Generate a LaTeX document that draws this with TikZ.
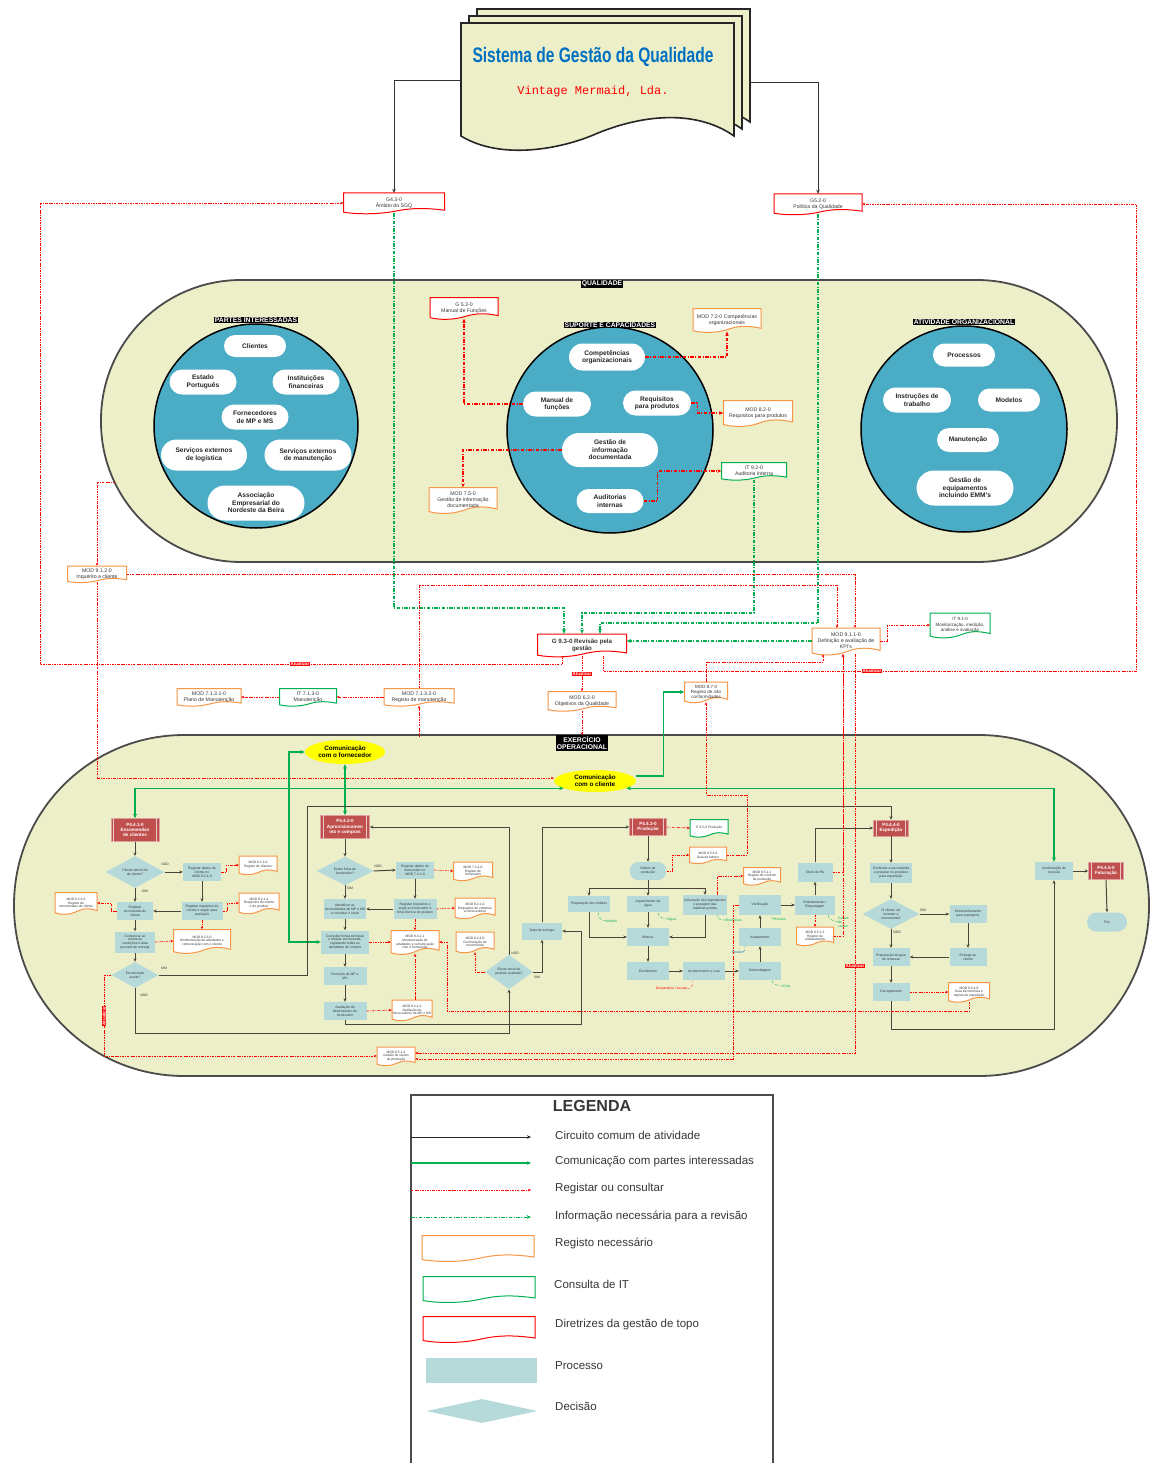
\documentclass[tikz,border=0pt]{standalone}
\usepackage{fontspec}
\setmainfont{Liberation Sans}
\newfontfamily\titlefont{Liberation Sans}[FakeStretch=0.74]
\newfontfamily\subtfont{Liberation Mono}
\usetikzlibrary{shapes.geometric,shapes.misc,arrows.meta}

\definecolor{qbg}{RGB}{237,239,201}
\definecolor{cblue}{RGB}{75,172,198}
\definecolor{procc}{RGB}{182,218,218}
\definecolor{pred}{RGB}{192,80,77}
\definecolor{gline}{RGB}{0,176,80}
\definecolor{oline}{RGB}{247,150,70}
\definecolor{rline}{RGB}{255,0,0}
\definecolor{tblue}{RGB}{0,112,192}
\definecolor{dgray}{RGB}{55,55,55}
\definecolor{lgray}{RGB}{75,75,75}
\definecolor{yell}{RGB}{255,255,0}
\definecolor{flowc}{RGB}{70,70,60}

\tikzset{
  docfont/.style={font=\fontsize{5.2}{5.9}\selectfont},
  docsm/.style={font=\fontsize{4.5}{5.1}\selectfont},
  tinydoc/.style={font=\fontsize{3.3}{3.8}\selectfont},
  g93font/.style={font=\fontsize{6.2}{7}\selectfont\bfseries},
  tinyfont/.style={font=\fontsize{3.4}{3.9}\selectfont},
  doctext/.style={align=center, inner sep=0pt, text=dgray},
  pill/.style={rounded rectangle, fill=white, align=center, inner sep=0pt,
    font=\fontsize{6.6}{7.4}\selectfont\bfseries, text=black!85},
  ctag/.style={fill=black, text=white, inner sep=1pt, align=center,
    font=\fontsize{6.8}{7.4}\selectfont\bfseries},
  procn/.style={rectangle, fill=procc, align=center, inner sep=0.5pt, tinyfont, text=dgray},
  decn/.style={diamond, fill=procc, align=center, inner sep=0pt, tinyfont, text=dgray},
  termn/.style={rounded rectangle, fill=procc, align=center, inner sep=0pt, tinyfont, text=dgray},
  pbx/.style={rectangle, fill=pred, draw=pred!55!white, line width=0.5pt, align=center,
    inner sep=0pt, text=white, font=\fontsize{4.6}{5.2}\selectfont\bfseries},
  yellown/.style={ellipse, fill=yell, align=center, inner sep=0pt,
    font=\fontsize{6.3}{7}\selectfont\bfseries},
  flow/.style={draw=flowc, line width=1pt, -{Stealth[length=3.5pt,width=3pt]}},
  flowline/.style={draw=flowc, line width=1pt},
  flowt/.style={draw=black!80, line width=0.9pt, -{Stealth[length=4pt,width=3.5pt]}},
  comm/.style={draw=gline, line width=1.4pt, -{Stealth[length=4.5pt,width=4pt]}},
  comm2/.style={draw=gline, line width=1.4pt,
    {Stealth[length=4.5pt,width=4pt]}-{Stealth[length=4.5pt,width=4pt]}},
  reg/.style={draw=rline, line width=0.6pt,
    dash pattern=on 2.4pt off 1.1pt on 0.7pt off 1.1pt, -{Stealth[length=3pt,width=2.6pt]}},
  regb/.style={draw=rline, line width=1.1pt,
    dash pattern=on 3.5pt off 1.5pt on 1pt off 1.5pt, -{Stealth[length=4pt,width=3.5pt]}},
  rev/.style={draw=gline, line width=1.3pt,
    dash pattern=on 3.5pt off 1.5pt on 1pt off 1.5pt, -{Stealth[length=4.5pt,width=4pt]}},
  upd/.style={fill=rline, text=white, inner sep=0.7pt, font=\fontsize{4.4}{5}\selectfont\bfseries},
  tagn/.style={tinyfont, text=dgray, inner sep=0pt},
  annG/.style={tinyfont, text=gline, inner sep=0pt, align=left},
  annR/.style={tinyfont, text=rline, inner sep=0pt},
  annB/.style={tinyfont, text=tblue, inner sep=0pt},
  leadG/.style={draw=gline, line width=0.35pt, densely dashed},
  leadR/.style={draw=rline!70, line width=0.35pt, densely dashed},
  leadB/.style={draw=tblue, line width=0.35pt, densely dashed},
  sheetst/.style={fill=qbg, draw=black!85, line width=1.6pt},
  legt/.style={anchor=west, inner sep=0pt, text=dgray, font=\fontsize{11.5}{13}\selectfont},
}

% document symbol: rectangle with a wavy lower edge
\newcommand{\docnode}[7][docfont]{%
  \begin{scope}[shift={(#3)}]
    \filldraw[fill=white, draw=#6, line width=1pt]
      (-#4/2,-#5/2) -- (#4/2,-#5/2) -- (#4/2,0.36*#5)
      .. controls (0.25*#4,0.2*#5) and (0.12*#4,0.3*#5) .. (0,0.42*#5)
      .. controls (-0.15*#4,0.56*#5) and (-0.35*#4,0.58*#5) .. (-#4/2,0.46*#5) -- cycle;
  \end{scope}
  \node[doctext,#1,minimum width=#4,minimum height=#5] (#2) at (#3) {#7};
}
% predefined-process box with inner side bars
\newcommand{\predproc}[5]{%
  \node[pbx, minimum width=#3, minimum height=#4] (#1) at (#2) {#5};
  \draw[pred!30!white, line width=0.6pt]
    ([xshift=3pt]#1.north west) -- ([xshift=3pt]#1.south west)
    ([xshift=-3pt]#1.north east) -- ([xshift=-3pt]#1.south east);
}
% one sheet of the title stack
\newcommand{\drawsheet}[2]{%
  \filldraw[sheetst, shift={(#1,#2)}] (461,23) -- (734,23) -- (734,136)
    .. controls (700,112) and (650,112) .. (598,133)
    .. controls (560,150) and (500,160) .. (461,136) -- cycle;
}

\begin{document}
\begin{tikzpicture}[x=1pt,y=-1pt]
\path[use as bounding box, fill=white] (0,0) rectangle (1150,1463);

% ---------- the two big bands ----------
\draw[fill=qbg, draw=lgray, line width=1.8pt, rounded corners=140pt] (101,280) rectangle (1117,562);
\draw[fill=qbg, draw=lgray, line width=1.8pt, rounded corners=170pt] (14,735) rectangle (1149,1076);

% ---------- circles of the quality band ----------
\draw[fill=cblue, draw=black, line width=1.5pt] (256,426) circle[radius=102pt];
\draw[fill=cblue, draw=black, line width=1.5pt] (610,430) circle[radius=103pt];
\draw[fill=cblue, draw=black, line width=1.5pt] (964,429) circle[radius=103pt];

\node[ctag] (tq) at (602,284) {QUALIDADE};
\node[ctag] (tpi) at (256,320) {PARTES INTERESSADAS};
\node[ctag] (tsc) at (610,325) {SUPORTE E CAPACIDADES};
\node[ctag] (tao) at (964,322) {ATIVIDADE ORGANIZACIONAL};

\node[pill, minimum width=62, minimum height=22] (pcl) at (255,346) {Clientes};
\node[pill, minimum width=67, minimum height=25] (pes) at (203,382) {Estado\\Português};
\node[pill, minimum width=67, minimum height=25] (pin) at (306,382) {Instituições\\financeiras};
\node[pill, minimum width=67, minimum height=25] (pfo) at (255,417) {Fornecedores\\de MP e MS};
\node[pill, minimum width=86, minimum height=31] (psl) at (204,455) {Serviços externos\\de logística};
\node[pill, minimum width=87, minimum height=31] (psm) at (308,455) {Serviços externos\\de  manutenção};
\node[pill, minimum width=97, minimum height=35] (pae) at (256,503) {Associação\\Empresarial do\\Nordeste da Beira};

\node[pill, minimum width=76, minimum height=27] (pco) at (607,357) {Competências\\organizacionais};
\node[pill, minimum width=68, minimum height=25] (pmf) at (557,404) {Manual de\\funções};
\node[pill, minimum width=68, minimum height=25] (preq) at (657,403) {Requisitos\\para produtos};
\node[pill, minimum width=96, minimum height=34] (pgi) at (610,450) {Gestão de\\informação\\documentada};
\node[pill, minimum width=67, minimum height=24] (pau) at (610,501) {Auditorias\\internas};

\node[pill, minimum width=62, minimum height=23] (ppr) at (964,355) {Processos};
\node[pill, minimum width=68, minimum height=25] (pit) at (917,400) {Instruções de\\trabalho};
\node[pill, minimum width=62, minimum height=23] (pmo) at (1009,400) {Modelos};
\node[pill, minimum width=62, minimum height=24] (pma) at (968,440) {Manutenção};
\node[pill, minimum width=97, minimum height=35] (pge) at (965,488) {Gestão de\\equipamentos\\incluindo EMM's};

% ---------- title stack ----------
\drawsheet{16}{-14}
\drawsheet{8}{-7}
\drawsheet{0}{0}
\node[minimum width=273, minimum height=113, inner sep=0pt] (sgq) at (597.5,80) {};
\coordinate (sgqR) at (750,82);
\node[text=tblue, font=\titlefont\fontsize{21}{24}\selectfont\bfseries] (ttl) at (593,57) {Sistema de Gestão da Qualidade};
\node[text=rline, font=\subtfont\fontsize{12}{14}\selectfont] (sub) at (593,91) {Vintage Mermaid, Lda.};

% ---------- records and directives, upper part ----------
\docnode{g43}{394,203}{101}{20}{rline}{G4.3-0\\Âmbito do SGQ}
\docnode{g52}{818,204}{88}{20}{rline}{G5.2-0\\Política da Qualidade}
\docnode{g53}{464,308}{68}{21}{rline}{G 5.3-0\\Manual de Funções}
\docnode{m72}{727,320}{68}{23}{oline}{MOD 7.2-0 Competências\\organizacionais}
\docnode{m82}{758,413}{69}{25}{oline}{MOD 8.2-0\\Requisitos para produtos}
\docnode{m75}{463,500}{68}{25}{oline}{MOD 7.5-0\\Gestão de informação\\documentada}
\docnode{it92}{754,471}{65}{17}{gline}{IT 9.2-0\\Auditoria interna}
\docnode{m912}{97,574}{59}{16}{oline}{MOD 9.1.2-0\\Inquérito a cliente}
\docnode[g93font]{g93}{582,645}{89}{22}{rline}{G 9.3-0 Revisão pela\\gestão}
\docnode{m62}{582,701}{68}{19}{oline}{MOD 6.2-0\\Objetivos da Qualidade}
\docnode[docsm]{m87}{706,692}{43}{20}{oline}{MOD 8.7-0\\Registo de não\\conformidades}
\docnode{m911}{846,641}{68}{26}{oline}{MOD 9.1.1-0\\Definição e avaliação de\\KPI's}
\docnode[docsm]{it91}{960,625}{60}{24}{gline}{IT 9.1-0\\Monitorização, medição,\\análise e avaliação}
\docnode{m7131}{209,697}{64}{17}{oline}{MOD 7.1.3.1-0\\Plano de Manutenção}
\docnode{it713}{308,697}{57}{17}{gline}{IT 7.1.3-0\\Manutenção}
\docnode{m7132}{419,697}{70}{17}{oline}{MOD 7.1.3.2-0\\Registo de manutenção}

\node[ctag] (teo) at (582,743) {EXERCÍCIO\\OPERACIONAL};

% ---------- operational band: communication ----------
\node[yellown, minimum width=80, minimum height=24] (cforn) at (345,752) {Comunicação\\com o fornecedor};
\node[yellown, minimum width=82, minimum height=22] (ccli) at (595,781) {Comunicação\\com o cliente};

% ---------- P4.4.1-0 ----------
\predproc{p441}{135,830}{48}{23}{P4.4.1-0\\Encomendas\\de clientes}
\node[decn, minimum width=59, minimum height=30] (dc1) at (135,872) {Cliente tem ficha\\de cliente?};
\node[procn, minimum width=38, minimum height=18] (r1) at (202,872) {Registar dados do\\cliente no\\MOD 8.2.1-0};
\docnode[tinydoc]{d1}{258,865}{38}{18}{oline}{MOD 8.2.1-0\\Registo de clientes}
\node[procn, minimum width=36, minimum height=18] (e1) at (135,911) {Registar\\encomenda do\\cliente};
\node[procn, minimum width=41, minimum height=18] (r2) at (202,911) {Registar requisitos do\\cliente e seguir para\\avaliação};
\docnode[tinydoc]{d2}{259,903}{40}{20}{oline}{MOD 8.2.1-1\\Requisitos do cliente\\e do produto}
\docnode[tinydoc]{d4}{76,903}{42}{21}{oline}{MOD 8.2.2-0\\Registo de\\encomendas de cliente}
\docnode[tinydoc]{d3}{202,941}{57}{23}{oline}{MOD 8.2.3-0\\Monitorização de atividades e\\comunicação com o cliente}
\node[procn, minimum width=40, minimum height=21] (c1) at (135,942) {Comunicar ao\\cliente as\\condições e data\\prevista de entrega};
\node[decn, minimum width=47, minimum height=26] (dc2) at (135,975) {Encomenda\\aceite?};
\node[tagn] (tg1) at (165,864) {NÃO};
\node[tagn] (tg2) at (145,891) {SIM};
\node[tagn] (tg3) at (164,968) {SIM};
\node[tagn] (tg4) at (144,995) {NÃO};

% ---------- P4.4.2-0 ----------
\predproc{p442}{345,827}{49}{23}{P4.4.2-0\\Aprovisionamen\\nto e compras}
\node[decn, minimum width=57, minimum height=28] (dc4) at (345,871) {Existe ficha de\\fornecedor?};
\node[procn, minimum width=38, minimum height=17] (s1) at (415,870) {Registar dados do\\fornecedor no\\MOD 7.4.1-0};
\docnode[tinydoc]{d5}{473,871}{39}{18}{oline}{MOD 7.4.1-0\\Registo de\\fornecedor}
\node[procn, minimum width=42, minimum height=20] (s3) at (345,909) {Identificar as\\necessidades de MP e MS\\e consultar o stock};
\node[procn, minimum width=43, minimum height=20] (s2) at (415,909) {Registar requisitos e\\exigir ao fornecedor a\\ficha técnica do produto};
\docnode[tinydoc]{d6}{475,908}{40}{20}{oline}{MOD 8.4.1-0\\Requisitos de compras\\a fornecedores}
\node[procn, minimum width=48, minimum height=23] (s4) at (345,942) {Consultar fichas técnicas\\e efetuar encomenda,\\registando todas as\\atividades de compra};
\docnode[tinydoc]{d7}{415,942}{48}{23}{oline}{MOD 8.4.1-1\\Monitorização de\\atividades e comunicação\\com o fornecedor}
\docnode[tinydoc]{d9}{475,942}{38}{20}{oline}{MOD 8.2.4-0\\Confirmação de\\encomenda}
\node[procn, minimum width=43, minimum height=18] (s5) at (345,976) {Receção de MP e\\MS};
\node[procn, minimum width=43, minimum height=18] (s6) at (345,1011) {Avaliação de\\desempenho do\\fornecedor};
\docnode[tinydoc]{d8}{412,1010}{40}{20}{oline}{MOD 8.4.1-2\\Avaliação de\\fornecedores de MP e MS}
\docnode[tinydoc]{d10}{396,1056}{38}{18}{oline}{MOD 8.5.1-4\\Gestão de stocks\\de produção}
\node[decn, minimum width=48, minimum height=26] (dc3) at (509,972) {Existe stock de\\produto acabado?};
\node[procn, minimum width=40, minimum height=17] (rcp) at (542,931) {Data de entrega};
\node[tagn] (tg5) at (378,866) {NÃO};
\node[tagn] (tg6) at (350,888) {SIM};
\node[tagn] (tg7) at (515,953) {NÃO};
\node[tagn] (tg8) at (537,977) {SIM};

% ---------- P4.4.3-0 ----------
\predproc{p443}{648,827}{37}{17}{P4.4.3-0\\Produção}
\docnode[tinydoc]{it85}{709,828}{38}{17}{gline}{IT 8.5-0 Produção}
\docnode[tinydoc]{m851}{708,855}{37}{16}{oline}{MOD 8.5.1-0\\Guia de fabrico}
\node[termn, minimum width=37, minimum height=18] (op) at (648,871) {Ordem de\\produção};
\coordinate (spl) at (648,888);
\node[procn, minimum width=42, minimum height=16] (m1) at (589,904) {Preparação dos moldes};
\node[procn, minimum width=42, minimum height=16] (m2) at (648,904) {Aquecimento da\\água};
\node[procn, minimum width=44, minimum height=20] (m3) at (705,905) {Colocação dos ingredientes\\e pesagem das\\matérias-primas};
\node[procn, minimum width=42, minimum height=18] (m4) at (648,937) {Mistura};
\node[procn, minimum width=42, minimum height=18] (m5) at (648,971) {Enchimento};
\node[procn, minimum width=42, minimum height=18] (m6) at (704,971) {Arrefecimento e cura};
\node[procn, minimum width=42, minimum height=18] (m7) at (760,971) {Desmoldagem};
\node[procn, minimum width=42, minimum height=18] (m8) at (760,937) {Acabamento};
\node[procn, minimum width=42, minimum height=20] (m9) at (760,905) {Verificação};
\docnode[tinydoc]{m8511}{762,876}{37}{17}{oline}{MOD 8.5.1-1\\Registo de controlo\\de produção}
\node[procn, minimum width=40, minimum height=19] (m10) at (815,905) {Embalamento /\\Etiquetagem};
\docnode[tinydoc]{m8513}{815,936}{37}{18}{oline}{MOD 8.5.1-3\\Registo de\\embalamento}
\node[procn, minimum width=35, minimum height=19] (m11) at (815,872) {Stock de PA};

\node[annG, anchor=west] (a1) at (606,921) {Moldes};
\node[annG, anchor=west] (a2) at (668,919) {Água};
\node[annG, anchor=west] (a3) at (726,920) {Essências};
\node[annG, anchor=west] (a4) at (774,919) {Rótulos};
\node[annG, anchor=west] (a5) at (838,922) {Caixas\\de\\cartão};
\node[annB, anchor=east] (a6) at (743,952) {Pincéis};
\node[annG, anchor=west] (a7) at (783,986) {Cola};
\node[annR, anchor=east] (a8) at (687,989) {Desperdício / sucata};
\draw[leadG] (a1.west) .. controls +(-5,0) and +(0,5) .. ([xshift=9pt]m1.south);
\draw[leadG] (a2.west) .. controls +(-5,0) and +(0,5) .. ([xshift=10pt]m2.south);
\draw[leadG] (a3.west) .. controls +(-5,0) and +(0,4) .. ([xshift=12pt]m3.south);
\draw[leadG] (a4.west) .. controls +(-3,0) and +(0,3) .. ([xshift=12pt]m9.south);
\draw[leadG] (a5.west) .. controls +(-4,0) and +(0,4) .. ([xshift=13pt]m10.south);
\draw[leadB] (a6.east) .. controls +(2,0) and +(0,3) .. ([xshift=-15pt]m8.south);
\draw[leadG] (a7.west) .. controls +(-5,0) and +(0,4) .. ([xshift=12pt]m7.south);
\draw[leadR] (a8.east) .. controls +(5,0) and +(0,4) .. ([xshift=-11pt]m6.south);

% ---------- P4.4.4-0 and P4.4.5-0 ----------
\predproc{p444}{891,828}{35}{16}{P4.4.4-0\\Expedição}
\node[procn, minimum width=42, minimum height=20] (x1) at (891,873) {Confirmar a encomenda\\e preparar os produtos\\para expedição};
\node[decn, minimum width=57, minimum height=27] (dc5) at (891,914) {O cliente vai\\levantar a\\encomenda?};
\node[procn, minimum width=37, minimum height=18] (x2) at (968,914) {Encaminhamento\\para transporte};
\node[procn, minimum width=37, minimum height=18] (x3) at (968,957) {Entrega ao\\cliente};
\node[procn, minimum width=37, minimum height=18] (x4) at (891,957) {Preparação da guia\\de remessa};
\node[procn, minimum width=37, minimum height=18] (x5) at (891,992) {Carregamento};
\docnode[tinydoc]{m854}{969,992}{41}{19}{oline}{MOD 8.5.4-0\\Guia de remessa e\\registo de expedição}
\node[procn, minimum width=38, minimum height=18] (conf) at (1054,871) {Confirmação de\\receção};
\predproc{p445}{1106,871}{35}{17}{P4.4.5-0\\Faturação}
\node[termn, minimum width=40, minimum height=19] (fim) at (1107,922) {Fim};
\node[tagn] (tg9) at (923,910) {SIM};
\node[tagn] (tg10) at (897,932) {NÃO};

% ---------- title connectors ----------
\draw[flowt] (sgq.west) -| (g43.north);
\draw[flowt] (sgqR) -| (g52.north);

% ---------- quality band: register / consult ----------
\draw[regb] (pmf.west) -| (g53.south);
\draw[regb] (pco.east) -| (m72.south);
\draw[regb] (preq.east) -- ++(6,0) |- (m82.west);
\draw[regb] (pgi.west) -| (m75.north);
\draw[regb] (pau.east) -- ++(14,0) |- (it92.west);

% ---------- information for the review ----------
\draw[rev] (g43.south) |- (564,608) -- ([xshift=-18pt]g93.north);
\draw[rev] (it92.south) |- (582,613) -- (g93.north);
\draw[rev] (g52.south) |- (600,623) -- ([xshift=18pt]g93.north);
\draw[rev] (m911.west) -- (m911.west -| g93.east);

% ---------- updates from the review ----------
\draw[reg] ([xshift=-20pt]g93.south) -- ++(0,8) -| (40,203) -- (g43.west);
\draw[reg] ([xshift=21pt]g93.south) -- ++(0,15) -| (1136,204) -- (g52.east);
\draw[reg] (g93.south) -- (m62.north);
\draw[reg] (m62.south) -- (teo.north);
\node[upd] (u1) at (300,664) {Atualizar};
\node[upd] (u2) at (872,671) {Atualizar};
\node[upd] (u3) at (582,674) {Atualizar};

% ---------- records feeding the KPIs ----------
\coordinate (qlink) at (115,482);
\draw[reg] (qlink) -| (m912.north);
\draw[reg] (m912.east) -| ([xshift=9pt]m911.north);
\draw[reg] (m7132.north) |- (837,585) -- ([xshift=-9pt]m911.north);
\coordinate (opt419) at (419,737);
\draw[reg] (opt419) -- (m7132.south);
\draw[reg] (m7132.west) -- (it713.east);
\draw[reg] (it713.west) -- (m7131.east);
\draw[reg] (m911.east) -- ++(7,0) |- (it91.west);
\draw[reg] (m87.north) |- (823,662) -- ([xshift=-23pt]m911.south);
\draw[reg] (m912.south) |- ([yshift=3pt]ccli.west);

% ---------- communication lines ----------
\draw[comm2] (p441.north) |- (ccli.193);
\draw[comm2] (ccli.347) -| (conf.north);
\draw[comm2] (cforn.south) -- (p442.north);
\draw[comm2] (cforn.west) -| (289,942) -- (s4.west);
\draw[comm] ([yshift=5pt]ccli.east) -- ++(27,0) |- (m87.west);

% ---------- activity circuit ----------
\draw[flow] (p441.south) -- (dc1.north);
\draw[flow] (dc1.east) -- (r1.west);
\draw[flow] (r1.south) -- (r2.north);
\draw[flow] (r2.west) -- (e1.east);
\draw[flow] (dc1.south) -- (e1.north);
\draw[flow] (e1.south) -- (c1.north);
\draw[flow] (c1.south) -- (dc2.north);
\draw[flow] (dc2.east) -| (307,806) -| (p444.north);
\draw[flow] (dc2.south) |- (509,1033) -- (dc3.south);
\draw[flow] (p442.south) -- (dc4.north);
\draw[flow] (dc4.east) -- (s1.west);
\draw[flow] (s1.south) -- (s2.north);
\draw[flow] (s2.west) -- (s3.east);
\draw[flow] (dc4.south) -- (s3.north);
\draw[flow] (s3.south) -- (s4.north);
\draw[flow] (s4.south) -- (s5.north);
\draw[flow] (s5.south) -- (s6.north);
\draw[flow] (s6.south) |- (581,1024) |- (rcp.east);
\draw[flow] (dc3.north) |- (p442.east);
\draw[flow] (dc3.east) -| (rcp.south);
\draw[flow] (rcp.north) |- (p443.west);
\draw[flow] (p443.south) -- (op.north);
\draw[flowline] (op.south) -- (spl);
\draw[flow] (spl) -| (m1.north);
\draw[flow] (spl) -- (m2.north);
\draw[flow] (spl) -| (m3.north);
\draw[flow] (m1.south) |- (m4.west);
\draw[flow] (m3.south) |- (m4.east);
\draw[flow] (m2.south) -- (m4.north);
\draw[flow] (m4.south) -- (m5.north);
\draw[flow] (m5.east) -- (m6.west);
\draw[flow] (m6.east) -- (m7.west);
\draw[flow] (m7.north) -- (m8.south);
\draw[flow] (m8.north) -- (m9.south);
\draw[flow] (m9.east) -- (m10.west);
\draw[flow] (m10.north) -- (m11.south);
\draw[flow] (m11.north) |- (p444.west);
\draw[flow] (p444.south) -- (x1.north);
\draw[flow] (x1.south) -- (dc5.north);
\draw[flow] (dc5.east) -- (x2.west);
\draw[flow] (x2.south) -- (x3.north);
\draw[flow] (x3.west) -- (x4.east);
\draw[flow] (dc5.south) -- (x4.north);
\draw[flow] (x4.south) -- (x5.north);
\draw[flow] (x5.south) |- (1054,1029) -- (conf.south);
\draw[flow] (conf.east) -- (p445.west);
\draw[flow] (p445.south) -- (fim.north);

% ---------- operational records ----------
\draw[reg] (r1.east) -- ++(5,0) |- (d1.west);
\draw[reg] (r2.east) -- ++(5,0) |- (d2.west);
\draw[reg] (r2.south) -- (d3.north);
\draw[reg] (e1.west) -- ++(-6,0) |- (d4.east);
\draw[reg] (c1.east) -- (d3.west);
\draw[reg] (dc2.west) -- (104,975) |- (d10.west);
\node[upd, rotate=90] (u4) at (104,1016) {Atualizar};
\draw[reg] (s1.east) -- (d5.west);
\draw[reg] (s2.east) -- (d6.west);
\draw[reg] (s2.south) -- (d7.north);
\draw[reg] (s4.east) -- (d7.west);
\draw[reg] (s6.east) -- (d8.west);
\draw[reg] (d8.north -| d7.south) -- (d7.south);
\draw[reg] (dc3.west) -| (d9.south);
\draw[reg] (m854.south) |- (447,1011) |- (d7.east);
\draw[reg] (p443.east) -- (it85.west);
\draw[reg] (op.east) -- ++(6,0) |- (m851.west);
\draw[reg] (m851.east) -| (747,795) -| (m87.south);
\draw[reg] ([xshift=12pt]m3.north) |- (m8511.west);
\draw[reg] (m10.south) -- (m8513.north);
\draw[reg] (m11.east) -| ([xshift=-3pt]m911.south);
\draw[reg] (m8513.east) -| ([xshift=-3pt]m911.south);
\draw[reg] ([xshift=9pt]m911.south) |- ([yshift=3pt]d10.east);
\draw[reg] (m9.west) -- ++(-6,0) |- ([yshift=-3pt]d10.east);
\draw[reg] (x5.east) -- (m854.west);
\node[upd] (u5) at (855,966) {Atualizar};

% ---------- legend ----------
\draw[draw=lgray, line width=1.2pt] (411,1095) rectangle (773,1480);
\node[text=dgray, font=\fontsize{16}{18}\selectfont\bfseries] (lgt) at (592,1106) {LEGENDA};
\coordinate (l1a) at (411,1137); \coordinate (l1b) at (531,1137);
\coordinate (l2a) at (411,1163); \coordinate (l2b) at (531,1163);
\coordinate (l3a) at (411,1190); \coordinate (l3b) at (531,1190);
\coordinate (l4a) at (411,1217); \coordinate (l4b) at (531,1217);
\draw[draw=black!85, line width=0.8pt, -{Stealth[length=4pt,width=3.5pt]}] (l1a) -- (l1b);
\draw[draw=gline, line width=1.1pt, -{Stealth[length=4pt,width=3.5pt]}] (l2a) -- (l2b);
\draw[reg, line width=0.8pt] (l3a) -- (l3b);
\draw[rev, line width=0.8pt] (l4a) -- (l4b);
\docnode{lg1}{478,1248}{112}{25}{oline}{}
\docnode{lg2}{479,1289}{112}{25}{gline}{}
\docnode{lg3}{479,1329}{112}{25}{rline}{}
\node[fill=procc, minimum width=111, minimum height=25, inner sep=0pt] (lg4) at (481,1370) {};
\node[diamond, fill=procc, minimum width=111, minimum height=24, inner sep=0pt] (lg5) at (482,1411) {};
\node[legt] (lt1) at (555,1135) {Circuito comum de atividade};
\node[legt] (lt2) at (555,1162) {Comunicação com partes interessadas};
\node[legt] (lt3) at (555,1189) {Registar ou consultar};
\node[legt] (lt4) at (555,1216) {Informação necessária para a revisão};
\node[legt] (lt5) at (555,1243) {Registo necessário};
\node[legt] (lt6) at (554,1284) {Consulta de IT};
\node[legt] (lt7) at (555,1325) {Diretrizes da gestão de topo};
\node[legt] (lt8) at (555,1366) {Processo};
\node[legt] (lt9) at (555,1406) {Decisão};
\end{tikzpicture}
\end{document}
